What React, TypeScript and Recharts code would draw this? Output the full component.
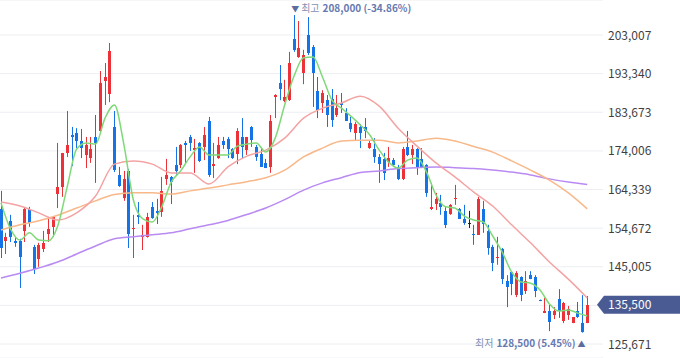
import React from "react";
import {
  ComposedChart,
  Bar,
  Line,
  XAxis,
  YAxis,
  CartesianGrid,
  ReferenceDot,
} from "recharts";

// daily candles, oldest first (KRW)
const OPEN = [
  159500, 151500, 156500, 151500, 151500, 154000, 159500, 150000, 147000, 149500,
  153200, 155000, 163200, 165000, 173500, 178000, 178500, 176500, 173000, 172200,
  177500, 179000, 191500, 188200, 180000, 168000, 162200, 169000, 154500, 158000,
  152500, 152500, 160000, 159000, 158700, 167000, 167500, 170500, 170500, 176000,
  177500, 174200, 176000, 175000, 181500, 170200, 172200, 176500, 177000, 174500,
  173200, 177500, 174200, 180000, 175000, 173200, 171000, 170000, 187500, 191000,
  186500, 186700, 202000, 197500, 193500, 203000, 200000, 189000, 186000, 186700,
  187000, 183000, 186000, 183500, 181000, 178500, 180000, 180000, 174700, 174500,
  172500, 172000, 171200, 171700, 170000, 167000, 175000, 173000, 174500, 172000,
  170500, 159500, 160700, 161000, 159000, 158200, 162000, 159500, 157000, 156000,
  153200, 153000, 159500, 154000, 150000, 147200, 149500, 141400, 143700, 137900,
  142400, 138900, 142900, 142400, 136700, 133400, 133900, 132900, 136900, 131400,
  132900, 130900, 133900, 130900, 130900,
];
const HIGH = [
  164000, 153500, 158000, 152500, 152000, 159700, 160000, 150500, 151000, 154000,
  157500, 157500, 176000, 173500, 184000, 180000, 179700, 179500, 177500, 177500,
  183000, 194000, 196000, 201000, 184000, 170000, 169000, 169500, 158000, 161200,
  155500, 158500, 161200, 162000, 167500, 172000, 167700, 175000, 175700, 176500,
  178000, 177000, 176200, 180000, 182500, 176000, 177500, 177500, 177500, 174700,
  179700, 182200, 177500, 180200, 175500, 174700, 172000, 183000, 188200, 195500,
  191800, 198800, 208000, 206500, 199300, 207500, 200500, 192500, 189200, 188000,
  189500, 188000, 188500, 184700, 182500, 181200, 180700, 182200, 176700, 177200,
  173200, 173500, 175000, 172200, 170500, 175000, 179000, 175500, 174700, 174700,
  170700, 166000, 163500, 163000, 160000, 160700, 165500, 159700, 160500, 159000,
  155500, 162500, 161500, 155500, 150500, 152500, 149700, 142900, 143900, 143900,
  142600, 143900, 143900, 142900, 136800, 137200, 135500, 134900, 139400, 136200,
  135200, 132400, 136200, 137900, 137700,
];
const LOW = [
  147200, 148200, 151200, 150000, 139700, 151200, 155000, 143200, 145000, 148700,
  151200, 152500, 159700, 162500, 172500, 170200, 174700, 172200, 169700, 171000,
  166000, 178700, 185500, 186200, 168700, 165000, 161500, 149700, 147200, 155700,
  149200, 152300, 157000, 155700, 157500, 165500, 160700, 168000, 169700, 171000,
  174000, 168500, 171200, 171700, 167500, 167200, 172000, 174500, 172200, 172000,
  170700, 172000, 173000, 175000, 171500, 170000, 169700, 168500, 182200, 186700,
  186200, 186500, 198800, 197300, 190700, 198000, 185000, 182200, 183500, 180000,
  180000, 182500, 183500, 181500, 178700, 176500, 174700, 177200, 174500, 171000,
  166000, 166700, 170000, 170000, 166700, 166700, 172700, 170700, 168000, 169700,
  162500, 159200, 159200, 158000, 154700, 158000, 160500, 157000, 155500, 154700,
  150500, 153000, 153500, 148000, 143900, 145500, 140700, 134900, 137900, 137400,
  136400, 138200, 141900, 137400, 136400, 133400, 128900, 131900, 132200, 130900,
  131700, 130900, 132200, 128500, 130900,
];
const CLOSE = [
  149700, 152500, 152500, 151000, 147500, 159500, 156000, 144500, 150500, 151000,
  154500, 157500, 165000, 173500, 175500, 177500, 176500, 174700, 175500, 174500,
  176000, 191000, 192500, 199000, 169200, 165200, 167000, 153200, 154700, 157500,
  153000, 157500, 157200, 158500, 164000, 168000, 166200, 169000, 175500, 175500,
  176000, 174700, 171500, 178000, 168000, 170700, 175500, 175500, 174500, 172200,
  179000, 175000, 177500, 176700, 172500, 170000, 169700, 181500, 188000, 189500,
  187500, 196000, 199300, 199800, 198000, 198500, 193500, 184200, 188500, 183000,
  181700, 184700, 185500, 181500, 179500, 180700, 178500, 179000, 176000, 172500,
  170700, 168500, 172200, 170500, 167000, 174500, 173000, 174500, 169700, 170000,
  163500, 160000, 162000, 160000, 155500, 160500, 162200, 157000, 156000, 156000,
  153000, 162000, 155700, 149700, 146000, 147500, 141900, 139900, 140700, 143400,
  137900, 141400, 141900, 138900, 136500, 133900, 131200, 133900, 133900, 135900,
  134400, 132400, 132400, 128700, 135500,
];

// moving averages (MA5 every 2nd candle, others every 4th)
const MA5 = [
  161000, 154500, 151700, 153500, 151700, 151500, 155200, 165000, 174500, 176000,
  175700, 182200, 185500, 175500, 161700, 157000, 156200, 160000, 166200, 169000,
  172500, 175000, 173000, 173000, 173000, 175200, 175700, 176000, 173700, 177200,
  185500, 192800, 197300, 197500, 192500, 186700, 184700, 182700, 180500, 178000,
  174200, 171200, 169700, 171700, 172200, 168700, 163000, 160000, 159700, 157700,
  156700, 156200, 152700, 148700, 143700, 141200, 140900, 139200, 135700, 133900,
  134200, 133400, 132700,
];
const MA20 = [
  161200, 160200, 158500, 156700, 158500, 162700, 170700, 171500, 170700, 168500,
  168500, 165700, 170000, 172700, 174200, 177200, 182200, 184700, 186000, 187700,
  185200, 179700, 175200, 171000, 167500, 163700, 160200, 155500, 151000, 146200,
  141900, 137200,
];
const MA60 = [
  154200, 155500, 156500, 157900, 159700, 161500, 163100, 163500, 163500, 163200,
  164000, 164700, 165500, 166300, 167300, 169200, 172500, 174700, 176500, 176700,
  176700, 176000, 176500, 177200, 176500, 175100, 173700, 171500, 169200, 166700,
  163500, 159500,
];
const MA120 = [
  142200, 143400, 144700, 146200, 148200, 150200, 152000, 152500, 153000, 153500,
  154500, 155500, 156600, 158100, 159700, 161800, 164200, 166000, 167300, 168600,
  169000, 169600, 169800, 170000, 169800, 169600, 169200, 168700, 168000, 167000,
  166200, 165600,
];

const Y_TICKS = [125671, 135338, 145005, 154672, 164339, 174006, 183673, 193340, 203007];
const LAST_PRICE = 135500;
const TOP = { i: 62, price: 208000, pct: "-34.86%" };
const BOTTOM = { i: 123, price: 128500, pct: "5.45%" };

const RED = "#ec3139";
const BLUE = "#1673e6";
const FONT = "'Noto Sans CJK KR', 'Noto Sans', sans-serif";

const candles = OPEN.map((o, i) => ({ i, o, h: HIGH[i], l: LOW[i], c: CLOSE[i] }));
const ma5Data = MA5.map((v, k) => ({ i: k * 2, v }));
const ma20Data = MA20.map((v, k) => ({ i: k * 4, v }));
const ma60Data = MA60.map((v, k) => ({ i: k * 4, v }));
const ma120Data = MA120.map((v, k) => ({ i: k * 4, v }));

const fmt = (n: number) => n.toLocaleString("en-US");

function Candle(props: any) {
  const { x, y, width, height, payload } = props;
  if (x == null || y == null || !payload) return <g />;
  const top = Math.min(y, y + height);
  const bot = Math.max(y, y + height);
  const { o, h, l, c } = payload;
  const span = h - l || 1;
  const py = (v: number) => top + ((h - v) / span) * (bot - top);
  const px = Math.floor(x + width / 2);
  const color = c > o ? RED : c < o ? BLUE : "#222";
  const bTop = Math.round(py(Math.max(o, c)));
  const bBot = Math.round(py(Math.min(o, c)));
  return (
    <g>
      <line x1={px + 0.5} x2={px + 0.5} y1={top} y2={bot} stroke={color} strokeWidth={1} />
      <rect x={px - 1} y={bTop} width={3} height={Math.max(1, bBot - bTop)} fill={color} />
    </g>
  );
}

function AxisTick(props: any) {
  const { x, y, payload } = props;
  if (payload.value === 135338) return <g />;
  return (
    <text x={x} y={y} dy={4.5} textAnchor="start" fill="#3f3f3f" fontSize={12} fontFamily={FONT}>
      {fmt(payload.value)}
    </text>
  );
}

function HighMark({ cx, cy }: any) {
  if (cx == null) return <g />;
  return (
    <text x={cx - 3} y={cy - 3} fontSize={10} fontFamily={FONT}>
      <tspan fill="#5b6d9e" fontSize={8}>▼</tspan>
      <tspan dx={2} fill="#8390b2">최고</tspan>
      <tspan dx={3} fill="#6679b0" fontWeight={700}>
        {fmt(TOP.price)} ({TOP.pct})
      </tspan>
    </text>
  );
}

function LowMark({ cx, cy }: any) {
  if (cx == null) return <g />;
  return (
    <text x={cx + 3} y={cy + 14} textAnchor="end" fontSize={10} fontFamily={FONT}>
      <tspan fill="#8390b2">최저</tspan>
      <tspan dx={3} fill="#6679b0" fontWeight={700}>
        {fmt(BOTTOM.price)} ({BOTTOM.pct})
      </tspan>
      <tspan dx={2} fill="#5b6d9e" fontSize={8}>▲</tspan>
    </text>
  );
}

function PriceBadge({ cy }: any) {
  if (cy == null) return <g />;
  const y0 = cy - 9;
  const y1 = cy + 9;
  return (
    <g>
      <polygon points={`597,${cy} 604,${y0} 680,${y0} 680,${y1} 604,${y1}`} fill="#4a5b93" />
      <text x={608} y={cy + 4.5} fill="#fff" fontSize={12} fontFamily={FONT}>
        {fmt(LAST_PRICE)}
      </text>
    </g>
  );
}

export default function App() {
  return (
    <div style={{ position: "fixed", left: 0, top: 0, width: 680, height: 358, background: "#fff" }}>
      <ComposedChart
        width={680}
        height={358}
        data={candles}
        margin={{ top: 0, right: 0, bottom: 0, left: 0 }}
      >
        <CartesianGrid vertical={false} stroke="#eceef2" />
        <XAxis dataKey="i" type="number" domain={[-0.2115, 127.33]} allowDataOverflow hide />
        <YAxis
          orientation="right"
          width={77}
          domain={[122167, 211774]}
          allowDataOverflow
          ticks={Y_TICKS}
          interval={0}
          axisLine={false}
          tickLine={false}
          tickSize={0}
          tickMargin={5}
          tick={<AxisTick />}
        />
        <Bar
          dataKey={(d: any) => [d.l, d.h]}
          barSize={3}
          shape={<Candle />}
          isAnimationActive={false}
        />
        <Line data={ma120Data} dataKey="v" type="monotone" stroke="#b98af2" strokeWidth={1.5} dot={false} activeDot={false} isAnimationActive={false} />
        <Line data={ma60Data} dataKey="v" type="monotone" stroke="#f8b889" strokeWidth={1.5} dot={false} activeDot={false} isAnimationActive={false} />
        <Line data={ma20Data} dataKey="v" type="monotone" stroke="#f4a3a3" strokeWidth={1.5} dot={false} activeDot={false} isAnimationActive={false} />
        <Line data={ma5Data} dataKey="v" type="monotone" stroke="#7fd978" strokeWidth={1.5} dot={false} activeDot={false} isAnimationActive={false} />
        <ReferenceDot x={TOP.i} y={TOP.price} r={1} shape={<HighMark />} />
        <ReferenceDot x={BOTTOM.i} y={BOTTOM.price} r={1} shape={<LowMark />} />
        <ReferenceDot x={candles.length - 1} y={LAST_PRICE} r={1} shape={<PriceBadge />} />
      </ComposedChart>
    </div>
  );
}
